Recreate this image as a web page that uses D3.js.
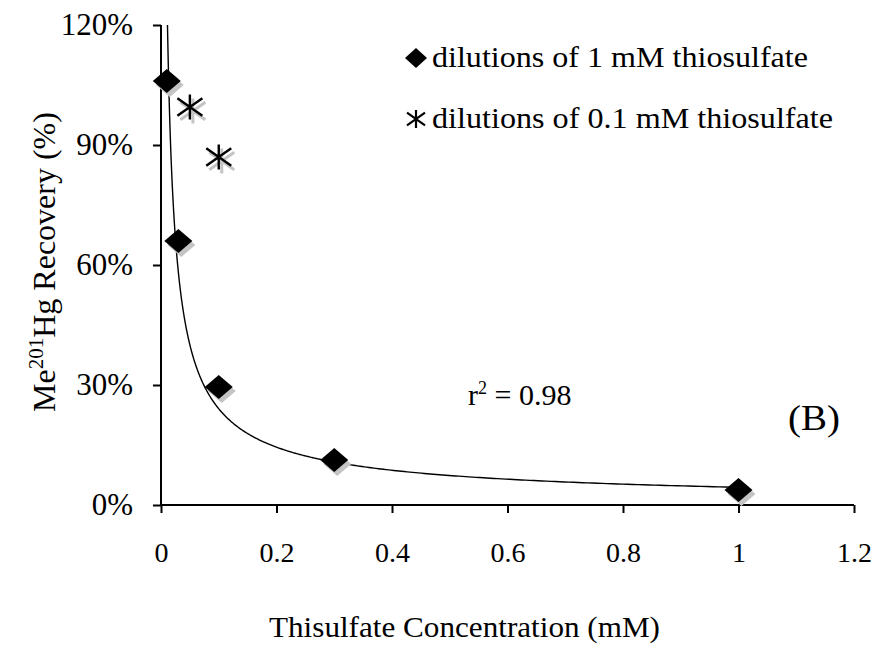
<!DOCTYPE html>
<html>
<head>
<meta charset="utf-8">
<script src="https://cdn.jsdelivr.net/npm/d3@7"></script>
<style>
  html, body { margin: 0; padding: 0; background: #fff; }
  svg text { font-family: "Liberation Serif", "Times New Roman", serif; fill: #000; }
</style>
</head>
<body>
<svg id="chart" width="879" height="646"></svg>
<script>
// ---- data ----
const conc1 = [0.01, 0.03, 0.1, 0.3, 1.0];            // dilutions of 1 mM thiosulfate (mM)
const recovery1 = [1.06, 0.66, 0.295, 0.1125, 0.0375];
const conc2 = [0.05, 0.1];                              // dilutions of 0.1 mM thiosulfate (mM)
const recovery2 = [0.995, 0.87];
const xTicks = [0, 0.2, 0.4, 0.6, 0.8, 1, 1.2];
const yTicks = [0, 0.3, 0.6, 0.9, 1.2];
const legendLabels = ["dilutions of 1 mM thiosulfate", "dilutions of 0.1 mM thiosulfate"];

const svg = d3.select("#chart");
const x = d3.scaleLinear().domain([0, 1.2]).range([161, 854]);
const y = d3.scaleLinear().domain([0, 1.2]).range([505, 25]);

// ---- axes ----
const xAxis = svg.append("g").attr("transform", `translate(0,${y(0)})`)
  .call(d3.axisBottom(x).tickValues(xTicks).tickFormat(d3.format("")).tickSize(8).tickPadding(29));
const yAxis = svg.append("g").attr("transform", `translate(${x(0)},0)`)
  .call(d3.axisLeft(y).tickValues(yTicks).tickFormat(d3.format(".0%")).tickSize(8).tickPadding(20));
[xAxis, yAxis].forEach(g => {
  g.select(".domain").attr("stroke", "#000").attr("stroke-width", 2);
  g.selectAll(".tick line").attr("stroke", "#000").attr("stroke-width", 2);
  g.selectAll(".tick text").attr("fill", "#000");
});
xAxis.selectAll(".tick text").attr("font-size", 28);
yAxis.selectAll(".tick text").attr("font-size", 31);
xAxis.select(".domain").attr("d", `M${x(0)},0H${x(1.2)}`);
yAxis.select(".domain").attr("d", `M0,${y(1.2)}V${y(0)}`);

// ---- power trendline (least squares in log-log) ----
const lx = conc1.map(Math.log), ly = recovery1.map(Math.log);
const mx = d3.mean(lx), my = d3.mean(ly);
const b = d3.sum(lx.map((v, i) => (v - mx) * (ly[i] - my))) / d3.sum(lx.map(v => (v - mx) ** 2));
const a = Math.exp(my - b * mx);
const xStart = Math.pow(1.2 / a, 1 / b);
const curvePts = d3.range(0, 401).map(i => {
  const t = i / 400;
  const xv = Math.exp(Math.log(xStart) + t * (Math.log(1.0) - Math.log(xStart)));
  return [xv, a * Math.pow(xv, b)];
});
svg.append("path")
  .attr("d", d3.line().x(d => x(d[0])).y(d => y(d[1]))(curvePts))
  .attr("fill", "none").attr("stroke", "#000").attr("stroke-width", 1.4);

// ---- markers ----
const diamond = (cx, cy, w, h) => `M${cx},${cy - h}L${cx + w},${cy}L${cx},${cy + h}L${cx - w},${cy}Z`;
const star = (cx, cy, r) => {
  const dx = r * 1.0, dy = r * 0.7;
  return `M${cx},${cy - r}V${cy + r}M${cx - dx},${cy - dy}L${cx + dx},${cy + dy}M${cx - dx},${cy + dy}L${cx + dx},${cy - dy}`;
};
const pts1 = conc1.map((c, i) => [x(c), y(recovery1[i])]);
const pts2 = conc2.map((c, i) => [x(c), y(recovery2[i])]);

// shadows
svg.append("g").selectAll("path").data(pts1).join("path")
  .attr("d", d => diamond(d[0] + 3, d[1] + 4, 14, 12)).attr("fill", "#c4c4c4");
svg.append("g").selectAll("path").data(pts2).join("path")
  .attr("d", d => star(d[0] + 3, d[1] + 4, 12.5)).attr("stroke", "#c4c4c4").attr("stroke-width", 3).attr("fill", "none");
// marks
svg.append("g").selectAll("path").data(pts1).join("path")
  .attr("d", d => diamond(d[0], d[1], 14, 12)).attr("fill", "#000");
svg.append("g").selectAll("path").data(pts2).join("path")
  .attr("d", d => star(d[0], d[1], 12.5)).attr("stroke", "#000").attr("stroke-width", 2.4).attr("fill", "none");

// ---- legend ----
const leg = svg.append("g");
leg.append("path").attr("d", diamond(416, 58, 11, 10)).attr("fill", "#000");
leg.append("path").attr("d", star(416, 119, 9)).attr("stroke", "#000").attr("stroke-width", 2.2).attr("fill", "none");
const legWidths = [376, 401];
leg.selectAll("text").data(legendLabels).join("text")
  .attr("x", 432).attr("y", (d, i) => 67 + i * 61)
  .attr("font-size", 29)
  .attr("textLength", (d, i) => legWidths[i]).attr("lengthAdjust", "spacingAndGlyphs")
  .text(d => d);

// ---- annotations ----
const r2 = svg.append("text").attr("x", 468).attr("y", 405).attr("font-size", 30);
r2.append("tspan").text("r");
r2.append("tspan").attr("dy", -11).attr("font-size", 18).text("2");
r2.append("tspan").attr("dy", 11).text(" = 0.98");
svg.append("text").attr("x", 788).attr("y", 430).attr("font-size", 36)
  .attr("textLength", 52).attr("lengthAdjust", "spacingAndGlyphs").text("(B)");

// ---- axis titles ----
svg.append("text").attr("x", 269).attr("y", 637)
  .attr("font-size", 30).attr("textLength", 391).attr("lengthAdjust", "spacingAndGlyphs")
  .text("Thisulfate Concentration (mM)");
const yt = svg.append("text").attr("transform", "translate(55,262) rotate(-90)")
  .attr("text-anchor", "middle").attr("font-size", 32);
yt.append("tspan").text("Me");
yt.append("tspan").attr("dy", -12).attr("font-size", 21).text("201");
yt.append("tspan").attr("dy", 12).text("Hg Recovery (%)");
</script>
</body>
</html>
